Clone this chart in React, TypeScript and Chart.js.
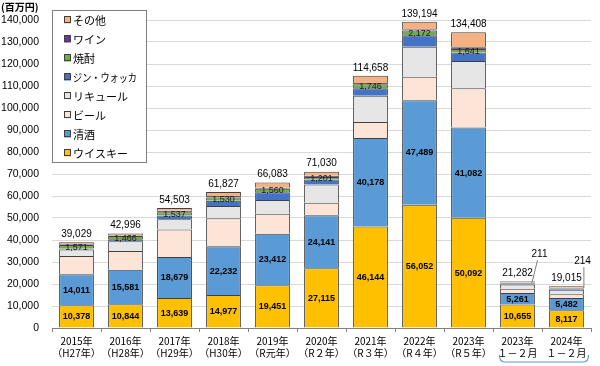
import React, { useEffect, useRef } from "react";
import { Chart, registerables } from "chart.js";

Chart.register(...registerables);

const categories: string[][] = [
  ["2015年", "（H27年）"],
  ["2016年", "（H28年）"],
  ["2017年", "（H29年）"],
  ["2018年", "（H30年）"],
  ["2019年", "（R元年）"],
  ["2020年", "（R２年）"],
  ["2021年", "（R３年）"],
  ["2022年", "（R４年）"],
  ["2023年", "（R５年）"],
  ["2023年", "１－２月"],
  ["2024年", "１－２月"],
];

const whisky = [10378, 10844, 13639, 14977, 19451, 27115, 46144, 56052, 50092, 10655, 8117];
const sake = [14011, 15581, 18679, 22232, 23412, 24141, 40178, 47489, 41082, 5261, 5482];
const beer = [8300, 8575, 12500, 12700, 9050, 5700, 7300, 10700, 17800, 1900, 1700];
const liqueur = [3000, 4400, 4600, 5600, 6300, 8300, 11900, 13600, 12400, 2000, 2100];
const ginVodka = [500, 930, 1700, 2300, 3500, 2200, 3500, 5200, 3800, 550, 600];
const shochu = [1571, 1466, 1537, 1530, 1560, 1201, 1746, 2172, 1641, 211, 214];
const wine = [300, 300, 600, 700, 500, 500, 600, 600, 793, 105, 102];
const others = [969, 900, 1248, 1788, 2310, 1873, 3290, 3381, 6800, 600, 700];
const totals = [39029, 42996, 54503, 61827, 66083, 71030, 114658, 139194, 134408, 21282, 19015];

const yTicks = [0, 10000, 20000, 30000, 40000, 50000, 60000, 70000, 80000, 90000, 100000, 110000, 120000, 130000, 140000];

const seriesNames = ["ウイスキー", "清酒", "ビール", "リキュール", "ジン・ウォッカ", "焼酎", "ワイン", "その他"];
const seriesColors = ["#FFC000", "#5B9BD5", "#FCE4D6", "#E7E6E6", "#4472C4", "#70AD47", "#7030A0", "#F4B183"];
const seriesData = [whisky, sake, beer, liqueur, ginVodka, shochu, wine, others];

const fmt = (v: number) => v.toLocaleString("en-US");
const JP = '"Noto Sans CJK JP", "Noto Sans", sans-serif';
const NUM = '"Liberation Sans", Arial, sans-serif';

const labelPlugin = {
  id: "customLabels",
  afterDatasetsDraw(chart: any) {
    const ctx = chart.ctx;
    ctx.save();
    ctx.textAlign = "center";
    ctx.textBaseline = "middle";
    ctx.fillStyle = "#000";
    [0, 1].forEach((di) => {
      const meta = chart.getDatasetMeta(di);
      meta.data.forEach((el: any, i: number) => {
        ctx.font = `bold 9px ${NUM}`;
        ctx.fillText(fmt(seriesData[di][i]), el.x, (el.y + el.base) / 2 + 0.5);
      });
    });
    const sm = chart.getDatasetMeta(5);
    const topMeta = chart.getDatasetMeta(7);
    sm.data.forEach((el: any, i: number) => {
      const segY = (el.y + el.base) / 2;
      const topY = topMeta.data[i].y;
      ctx.font = `9px ${NUM}`;
      ctx.fillStyle = "#1a1a1a";
      if (i < 9) {
        ctx.fillText(fmt(shochu[i]), el.x, segY + 0.5);
      } else {
        const w = el.width / 2;
        let tx: number, ty: number, lx1: number, ly1: number, lx2: number;
        if (i === 9) {
          tx = el.x + 22; ty = topY - 27; lx1 = el.x + 20; ly1 = topY - 21; lx2 = el.x + w - 3;
        } else {
          tx = el.x + 16; ty = topY - 25; lx1 = el.x + w; ly1 = topY - 19; lx2 = el.x + w;
        }
        ctx.font = `10px ${NUM}`;
        ctx.fillStyle = "#000";
        ctx.fillText(fmt(shochu[i]), tx, ty);
        ctx.strokeStyle = "#7f7f7f";
        ctx.lineWidth = 1;
        ctx.beginPath();
        ctx.moveTo(lx1, ly1);
        ctx.lineTo(lx2, segY);
        ctx.stroke();
      }
    });
    ctx.fillStyle = "#000";
    ctx.textBaseline = "bottom";
    ctx.font = `10px ${NUM}`;
    topMeta.data.forEach((el: any, i: number) => {
      ctx.fillText(fmt(totals[i]), el.x, el.y - 3);
    });
    ctx.restore();
  },
  afterDraw(chart: any) {
    const ctx = chart.ctx;
    ctx.save();
    ctx.fillStyle = "#000";
    ctx.font = `bold 10px ${JP}`;
    ctx.textAlign = "left";
    ctx.textBaseline = "middle";
    ctx.fillText("(百万円)", 1, 7);
    const bx = 52, by = 10, bw = 94, bh = 152;
    ctx.fillStyle = "#fff";
    ctx.fillRect(bx, by, bw, bh);
    ctx.strokeStyle = "#7f7f7f";
    ctx.lineWidth = 1;
    ctx.strokeRect(bx + 0.5, by + 0.5, bw, bh);
    const ds = chart.data.datasets;
    for (let k = 0; k < ds.length; k++) {
      const d = ds[ds.length - 1 - k];
      const cy = 20 + k * 19;
      ctx.fillStyle = d.backgroundColor;
      ctx.fillRect(64, cy - 3.5, 7, 7);
      ctx.strokeStyle = "#404040";
      ctx.strokeRect(64.5, cy - 3.5, 6, 6);
      ctx.fillStyle = "#000";
      ctx.font = `11px ${JP}`;
      ctx.fillText(d.label, 73, cy + 0.5, 64);
    }
    const xs = chart.scales.x;
    const l = xs.getPixelForValue(9) - 18;
    const r = xs.getPixelForValue(10) + 22;
    ctx.strokeStyle = "#5B9BD5";
    ctx.lineWidth = 1.2;
    ctx.beginPath();
    ctx.moveTo(l, 355);
    ctx.quadraticCurveTo(l, 362, l + 5, 362);
    ctx.lineTo(r - 5, 362);
    ctx.quadraticCurveTo(r, 362, r, 355);
    ctx.stroke();
    ctx.restore();
  },
};

export default function App() {
  const ref = useRef<HTMLCanvasElement>(null);
  useEffect(() => {
    if (!ref.current) return;
    const chart = new Chart(ref.current, {
      type: "bar",
      data: {
        labels: categories,
        datasets: seriesNames.map((n, i) => ({
          label: n,
          data: seriesData[i],
          backgroundColor: seriesColors[i],
          borderColor: "#404040",
          borderWidth: 1,
          borderSkipped: "start",
          barPercentage: 0.71,
          categoryPercentage: 1,
        })),
      },
      options: {
        responsive: false,
        animation: false,
        layout: { padding: { top: 20, right: 9, left: 0, bottom: 0 } },
        plugins: { legend: { display: false }, tooltip: { enabled: false } },
        scales: {
          x: {
            stacked: true,
            grid: { drawOnChartArea: false, drawTicks: true, tickLength: 4, color: "#808080", offset: true },
            border: { display: true, color: "#808080" },
            ticks: { font: { size: 10, family: JP }, color: "#000", padding: 3, maxRotation: 0, autoSkip: false },
            afterFit(s: any) { s.height = 38; },
          },
          y: {
            stacked: true,
            min: 0,
            max: 140000,
            afterBuildTicks(s: any) { s.ticks = yTicks.map((v) => ({ value: v })); },
            ticks: { font: { size: 10.5, family: NUM }, color: "#000", padding: 13, callback: (v: any) => fmt(Number(v)) },
            grid: { color: "#d9d9d9", drawTicks: false },
            border: { display: false },
            afterFit(s: any) { s.width = 52; },
          },
        },
      },
      plugins: [labelPlugin],
    });
    return () => chart.destroy();
  }, []);
  return (
    <div style={{ position: "absolute", left: 0, top: 0, width: 600, height: 366, background: "#fff" }}>
      <canvas ref={ref} width={600} height={366} style={{ display: "block" }} />
    </div>
  );
}
